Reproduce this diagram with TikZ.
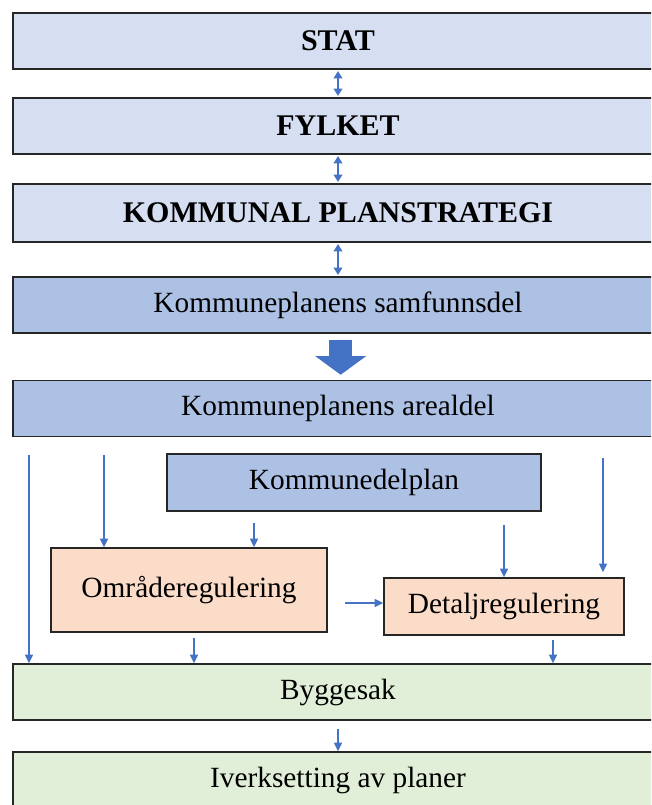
\documentclass[tikz,border=0pt]{standalone}
\usepackage{fontspec}
\setmainfont{Liberation Serif}
\usetikzlibrary{arrows.meta,calc}
\definecolor{lysblaa}{HTML}{D6DEF1}
\definecolor{blaa}{HTML}{ADC1E5}
\definecolor{fersken}{HTML}{FBDCC9}
\definecolor{lysgronn}{HTML}{E1EFD9}
\definecolor{pil}{HTML}{4472C4}
\tikzset{
	boks/.style={draw=black!85, line width=1.1pt, inner sep=0pt, font=\fontsize{22}{26}\selectfont},
	bred/.style={boks, minimum width=487.5pt, minimum height=42pt},
	fet/.style={font=\fontsize{22.5}{26}\selectfont\bfseries},
	dobbel/.style={draw=pil, line width=1.1pt, {Triangle[length=5.5pt,width=6.5pt]}-{Triangle[length=5.5pt,width=6.5pt]}, shorten <=1pt, shorten >=1pt},
	pilen/.style={draw=pil, line width=1pt, -{Triangle[length=6.5pt,width=6pt]}}
}

\begin{document}
\begin{tikzpicture}[x=0.75pt, y=-0.75pt]
				\useasboundingbox (0,0) rectangle (651,805);
				\clip (0,0) rectangle (651,805);
				
				\node[bred, fill=lysblaa, fet] (stat) at (338,41) {STAT};
				\node[bred, fill=lysblaa, fet] (fylket) at (338,126) {FYLKET};
				\node[bred, fill=lysblaa, fet, minimum height=43.5pt] (strategi) at (338,213) {KOMMUNAL PLANSTRATEGI};
				\node[bred, fill=blaa] (samfunn) at (338,305) {Kommuneplanens samfunnsdel};
				\node[bred, fill=blaa] (areal) at (338,408.5) {Kommuneplanens arealdel};
				
				\node[boks, fill=blaa, minimum width=280.5pt, minimum height=42.75pt] (delplan) at (354,482.5) {Kommunedelplan};
				\node[boks, fill=fersken, minimum width=207pt, minimum height=63pt] (omraade) at (189,590) {Områderegulering};
				\node[boks, fill=fersken, minimum width=180pt, minimum height=42.75pt] (detalj) at (504,606.5) {Detaljregulering};
				
				\node[bred, fill=lysgronn] (bygg) at (338,692) {Byggesak};
				\node[bred, fill=lysgronn] (iverk) at (338,780) {Iverksetting av planer};
				
				\draw[dobbel] (stat) -- (fylket);
				\draw[dobbel] (fylket) -- (strategi);
				\draw[dobbel] (strategi) -- (samfunn);
				\draw[pil, line width=17pt, -{Triangle[length=14pt,width=37.5pt]}, shorten <=5pt, shorten >=3.75pt] ([xshift=2pt]samfunn.south) -- ([xshift=2pt]areal.north);
				
				\coordinate (a1) at (29,455);
				\coordinate (a2) at (104,455);
				\coordinate (a3) at (254,523);
				\coordinate (a4) at (504,525);
				\coordinate (a5) at (603,458);
				\coordinate (a6) at (345,603);
				\coordinate (a7) at (194,638);
				\coordinate (a8) at (553,640);
				
				\draw[pilen] (a1) -- (a1 |- bygg.north);
				\draw[pilen] (a2) -- (a2 |- omraade.north);
				\draw[pilen] (a3) -- (a3 |- omraade.north);
				\draw[pilen] (a4) -- (detalj);
				\draw[pilen, shorten >=3.75pt] (a5) -- (a5 |- detalj.north);
				\draw[pilen] (a6) -- (a6 -| detalj.west);
				\draw[pilen] (a7) -- (a7 |- bygg.north);
				\draw[pilen] (a8) -- (a8 |- bygg.north);
				\draw[pilen, shorten <=6pt] (bygg) -- (iverk);
			\end{tikzpicture}
\end{document}
